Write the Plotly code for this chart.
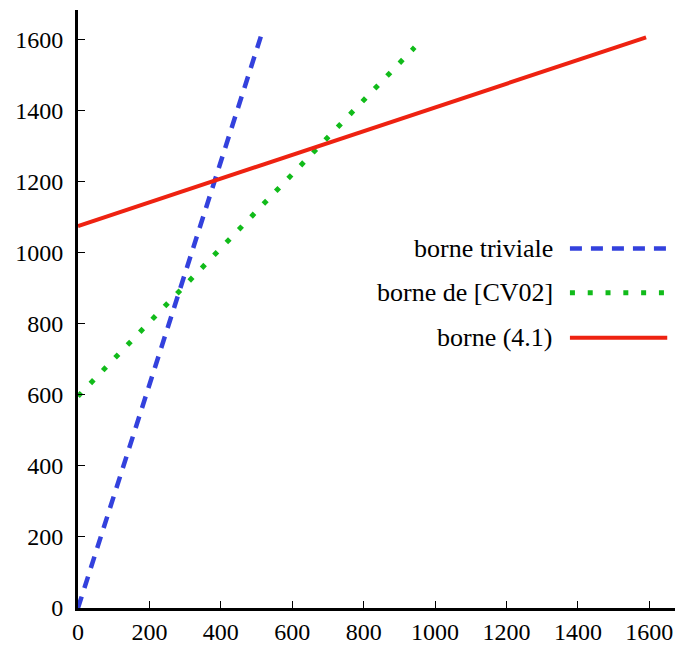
import plotly.graph_objects as go

# Data
x_triviale = [0, 512]
y_triviale = [0, 1608]
x_cv02 = [0, 943]
y_cv02 = [596, 1578]
x_41 = [0, 1591]
y_41 = [1075, 1606]

labels = ["borne triviale", "borne de [CV02]", "borne (4.1)"]
tick_vals = [0, 200, 400, 600, 800, 1000, 1200, 1400, 1600]

BLUE = "#3341dd"
GREEN = "#11bb1a"
RED = "#ee2211"
FONT = "Liberation Serif, Times New Roman, serif"
DOT = "5px,12.8px"
DASH = "12px,9px"

fig = go.Figure()
fig.add_trace(go.Scatter(x=x_triviale, y=y_triviale, mode="lines", name=labels[0],
                         line=dict(color=BLUE, width=4.5, dash=DASH)))
fig.add_trace(go.Scatter(x=x_cv02, y=y_cv02, mode="lines", name=labels[1],
                         line=dict(color=GREEN, width=5, dash=DOT)))
fig.add_trace(go.Scatter(x=x_41, y=y_41, mode="lines", name=labels[2],
                         line=dict(color=RED, width=4)))

# manual legend (text left of sample)
rows = [0.601, 0.527, 0.452]
styles = [dict(color=BLUE, width=4.5, dash=DASH),
          dict(color=GREEN, width=5, dash=DOT),
          dict(color=RED, width=4)]
for lab, yy, st in zip(labels, rows, styles):
    fig.add_annotation(x=0.799, y=yy, xref="paper", yref="paper", text=lab,
                       showarrow=False, xanchor="right", yanchor="middle",
                       font=dict(family=FONT, size=26, color="black"))
    fig.add_shape(type="line", xref="paper", yref="paper", x0=0.824, x1=0.987,
                  y0=yy, y1=yy, line=st)

axis_common = dict(showgrid=False, zeroline=False, showline=True, linecolor="black",
                   linewidth=3, ticks="inside", ticklen=7, tickwidth=1, tickcolor="black",
                   tickvals=tick_vals, tickfont=dict(family=FONT, size=24, color="black"),
                   ticklabeloverflow="allow", mirror=False)
fig.update_xaxes(range=[0, 1672], **axis_common)
fig.update_yaxes(range=[0, 1683], ticklabelstandoff=7, **axis_common)

fig.update_layout(width=675, height=645, margin=dict(l=78, r=0, t=10, b=35),
                  plot_bgcolor="white", paper_bgcolor="white", showlegend=False)

page_css = ("document.body.style.margin='0';"
            "document.body.style.overflow='hidden';"
            "document.documentElement.style.overflow='hidden';")
fig.write_html("out.html", post_script=page_css, config={"displayModeBar": False})
